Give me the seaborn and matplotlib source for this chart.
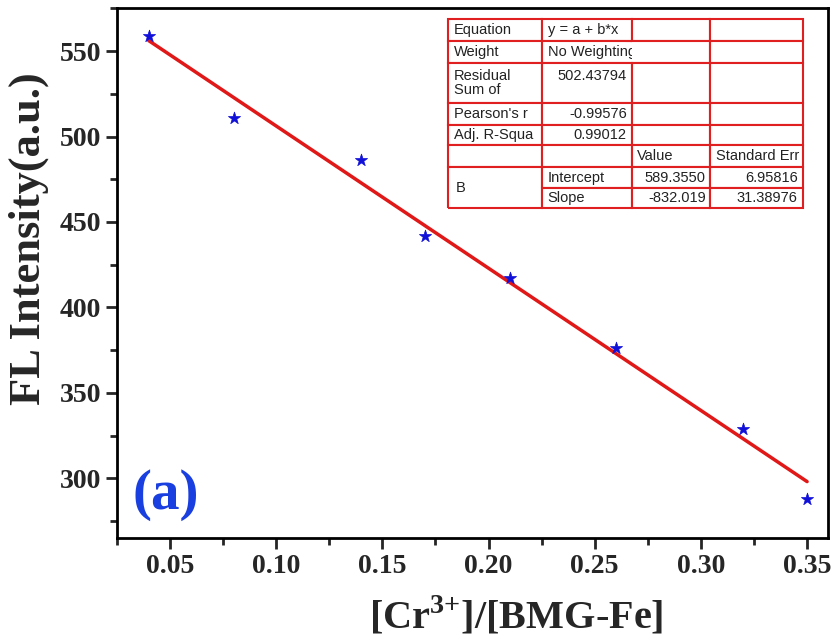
import numpy as np
import pandas as pd
import matplotlib
matplotlib.use("Agg")
import matplotlib.pyplot as plt
from matplotlib.ticker import MultipleLocator
import seaborn as sns

# data
ratio = [0.04, 0.08, 0.14, 0.17, 0.21, 0.26, 0.32, 0.35]
intensity = [559, 511, 486, 442, 417, 376, 329, 288]

# linear fit results (from the table)
intercept = 589.3550
slope = -832.019

table_rows = [
    ["Equation", "y = a + b*x", "", ""],
    ["Weight", "No Weighting", "", ""],
    ["Residual\nSum of", "502.43794\n", "", ""],
    ["Pearson's r", "-0.99576", "", ""],
    ["Adj. R-Squa", "0.99012", "", ""],
    ["", "", "Value", "Standard Err"],
    ["", "Intercept", "589.3550", "6.95816"],
    ["", "Slope", "-832.019", "31.38976"],
]

df = pd.DataFrame({"x": ratio, "y": intensity})
fit = pd.DataFrame({"x": [min(ratio), max(ratio)]})
fit["y"] = intercept + slope * fit["x"]

sns.set_style("ticks")
plt.rcParams["font.family"] = ["Liberation Serif", "DejaVu Serif"]
plt.rcParams["mathtext.fontset"] = "custom"
plt.rcParams["mathtext.rm"] = "Liberation Serif"
plt.rcParams["mathtext.bf"] = "Liberation Serif:bold"

fig = plt.figure(figsize=(8.35, 6.37), dpi=100)
ax = fig.add_axes([0.140, 0.155, 0.852, 0.832])

sns.lineplot(data=fit, x="x", y="y", color="#e01818", linewidth=2.5, ax=ax)
sns.scatterplot(data=df, x="x", y="y", marker="*", s=85, color="#1010d8",
                edgecolor="#1010d8", linewidth=0.5, ax=ax, zorder=3)

ax.set_xlim(0.025, 0.36)
ax.set_ylim(265, 575)
ax.xaxis.set_minor_locator(MultipleLocator(0.025))
ax.yaxis.set_major_locator(MultipleLocator(50))
ax.yaxis.set_minor_locator(MultipleLocator(25))
xt = np.arange(0.05, 0.351, 0.05)
ax.set_xticks(xt)
ax.set_xticklabels([f"{t:.2f}" for t in xt])

ax.tick_params(which="major", length=8, width=2, labelsize=20, direction="out")
ax.tick_params(which="minor", length=5, width=2, direction="out")
for lab in ax.get_xticklabels() + ax.get_yticklabels():
    lab.set_fontweight("bold")
for sp in ax.spines.values():
    sp.set_linewidth(2)
    sp.set_color("black")

ax.set_xlabel("[Cr$^{\\mathbf{3{+}}}$]/[BMG-Fe]", fontsize=29, fontweight="bold")
ax.set_ylabel("FL Intensity(a.u.)", fontsize=32, fontweight="bold")
ax.xaxis.set_label_coords(0.561, -0.106)
ax.yaxis.set_label_coords(-0.095, 0.566)

ax.text(0.022, 0.081, "(a)", transform=ax.transAxes, fontsize=41, fontweight="bold",
        color="#1a3fe0", ha="left", va="center")

# fit table
col_w = [94, 90, 78, 93]
row_h = [22, 22, 41, 22, 20, 22, 21, 20]
tab = ax.table(cellText=table_rows, colWidths=[w / sum(col_w) for w in col_w],
               cellLoc="left", bbox=[0.4655, 0.6226, 0.4995, 0.358])
tab.auto_set_font_size(False)
tab.set_fontsize(10.5)
for (r, c), cell in tab.get_celld().items():
    cell.set_height(row_h[r])
    cell.set_edgecolor("#e02020")
    cell.set_linewidth(1.5)
    txt = cell.get_text()
    txt.set_fontfamily(["Liberation Sans", "DejaVu Sans"])
    txt.set_color("#222222")
    txt.set_linespacing(1.0)
    cell.PAD = 0.06
    if r in (2, 3, 4) and c == 1:
        txt.set_ha("right")
        cell._loc = "right"
    if r in (6, 7) and c in (2, 3):
        txt.set_ha("right")
        cell._loc = "right"
    if r == 1 and c == 1:
        cell.visible_edges = "LTB"
    if r == 1 and c == 2:
        cell.visible_edges = "RTB"
    if r == 6 and c == 0:
        cell.visible_edges = "LRT"
    if r == 7 and c == 0:
        cell.visible_edges = "LRB"

ax.text(0.477, 0.661, "B", transform=ax.transAxes, fontsize=10.5, color="#222222",
        family=["Liberation Sans", "DejaVu Sans"], ha="left", va="center")

fig.savefig("out.png", dpi=100)
